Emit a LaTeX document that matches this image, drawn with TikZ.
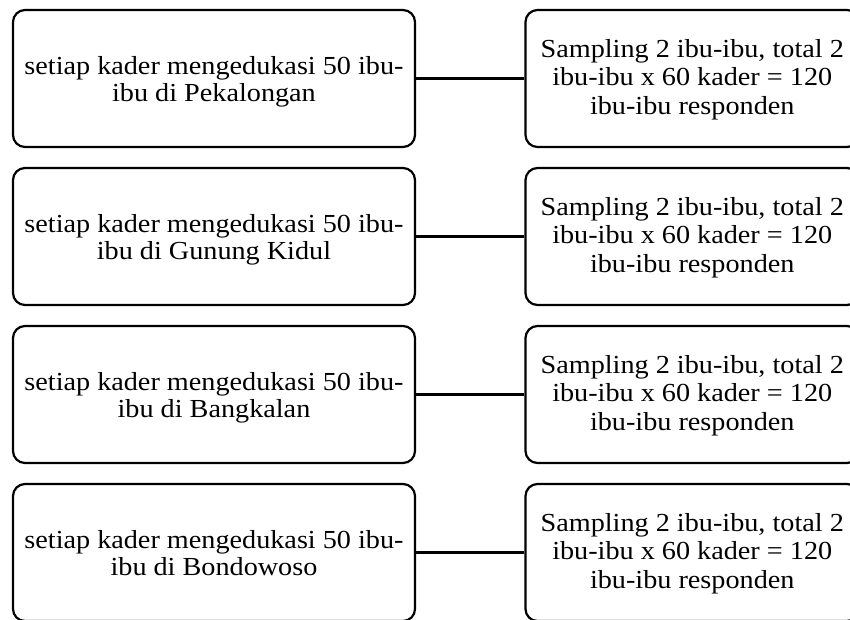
\documentclass[tikz,border=0pt]{standalone}
\usepackage{fontspec}
\setmainfont{Liberation Serif}[FakeStretch=1.085]
\begin{document}
\begin{tikzpicture}[x=1pt,y=-1pt,
  boxl/.style={draw, line width=2.2pt, rounded corners=12pt, minimum width=402pt, minimum height=137pt, inner sep=0pt},
  boxr/.style={draw, line width=2.2pt, rounded corners=12pt, minimum width=333.5pt, minimum height=137pt, inner sep=0pt},
  txtl/.style={align=center, inner sep=0pt, font=\fontsize{26}{27}\selectfont},
  txtr/.style={align=center, inner sep=0pt, font=\fontsize{26}{28.5}\selectfont},
  conn/.style={line width=2.2pt}]
\clip (0,0) rectangle (850,619);
\foreach \i/\place/\yy in {1/Pekalongan/78.5, 2/Gunung Kidul/236.5, 3/Bangkalan/394.5, 4/Bondowoso/552.5}{
  \node[boxl] (l\i) at (214,\yy) {};
  \node[txtl, yshift=-3.9pt] (lt\i) at (l\i.center) {\strut setiap kader mengedukasi 50 ibu-\\ibu di \place\strut};
  \node[boxr] (r\i) at (692.25,\yy) {};
  \node[txtr, yshift=-1.6pt] (rt\i) at (r\i.center) {\strut Sampling 2 ibu-ibu, total 2\\ibu-ibu x 60 kader = 120\\ibu-ibu responden\strut};
  \draw[conn] (l\i.east) -- (r\i.west);
}
\end{tikzpicture}
\end{document}
